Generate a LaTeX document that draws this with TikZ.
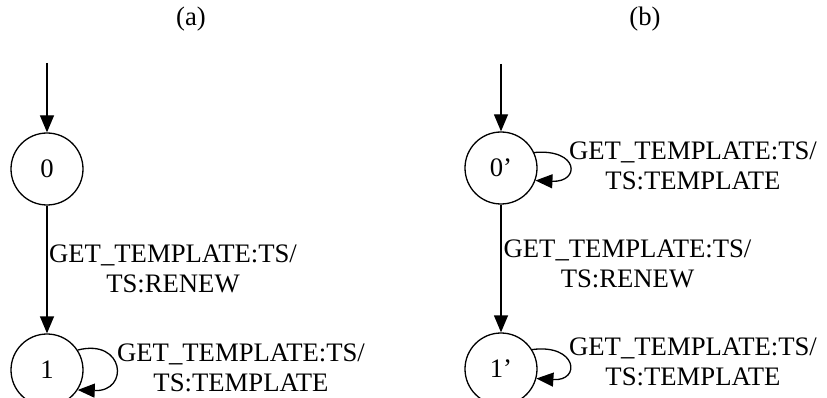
\documentclass[tikz,border=0pt]{standalone}
\usepackage{fontspec}
\setmainfont{Liberation Serif}
\usetikzlibrary{arrows.meta}
\begin{document}
\begin{tikzpicture}[x=1pt,y=-1pt,
  every node/.style={font=\fontsize{26.7}{30}\selectfont, inner sep=0pt},
  state/.style={circle, draw, line width=1.3pt, minimum size=72pt},
  lbl/.style={align=center},
  edge/.style={line width=1.3pt, -{Triangle[length=17pt,width=14pt]}}]
\useasboundingbox (0,0) rectangle (827,398);
% (a)
\node (ta) at (191,19.5) {(a)};
\coordinate (sa) at (47,63);
\node[state] (n0) at (47,169) {0};
\node[state] (n1) at (47,370) {1};
\draw[edge] (sa) -- (n0);
\draw[edge] (n0) -- (n1);
\node[lbl] (la) at (173,268.5) {GET\_TEMPLATE:TS/\\TS:RENEW};
\node[lbl] (la1) at (241,368) {GET\_TEMPLATE:TS/\\TS:TEMPLATE};
\draw[edge] (n1.33) .. controls +(47,-12) and +(52,2) .. (n1.-33);
% (b)
\node (tb) at (645,19.5) {(b)};
\coordinate (sb) at (501,64);
\node[state] (m0) at (501,168) {0’};
\node[state] (m1) at (501,369) {1’};
\draw[edge] (sb) -- (m0);
\draw[edge] (m0) -- (m1);
\node[lbl] (lb) at (627.5,263.5) {GET\_TEMPLATE:TS/\\TS:RENEW};
\node[lbl] (lb0) at (693,166) {GET\_TEMPLATE:TS/\\TS:TEMPLATE};
\draw[edge] (m0.25) .. controls +(45,-4) and +(45,2) .. (m0.-20);
\node[lbl] (lb1) at (693,362) {GET\_TEMPLATE:TS/\\TS:TEMPLATE};
\draw[edge] (m1.32) .. controls +(45,-6) and +(45,3) .. (m1.-15);
\end{tikzpicture}
\end{document}
